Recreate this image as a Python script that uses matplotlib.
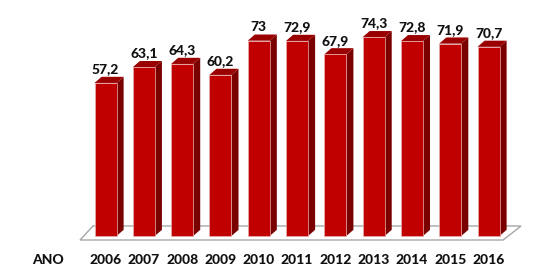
import matplotlib
matplotlib.use("Agg")
import matplotlib.pyplot as plt
from matplotlib.patches import Polygon, Rectangle

years = ["2006", "2007", "2008", "2009", "2010", "2011", "2012", "2013", "2014", "2015", "2016"]
values = [57.2, 63.1, 64.3, 60.2, 73, 72.9, 67.9, 74.3, 72.8, 71.9, 70.7]
labels = ["57,2", "63,1", "64,3", "60,2", "73", "72,9", "67,9", "74,3", "72,8", "71,9", "70,7"]

front = "#c00000"
side = "#7a0000"
top = "#9a0000"

plt.rcParams['font.family'] = ['Lato', 'DejaVu Sans']

fig = plt.figure(figsize=(5.48, 2.76), dpi=100)
ax = fig.add_axes([0, 0, 1, 1])
ax.set_xlim(-2.755, 11.553)
ax.set_ylim(-14.95, 88.2)
ax.axis('off')

w = 0.575   # bar width (index units)
dx = 0.185  # depth offset x
dy = 2.3    # depth offset y

# floor
floor = Polygon([(-0.666, -1.5), (10.38, -1.5), (10.85, 3.74), (-0.326, 3.74)],
                closed=True, facecolor='white', edgecolor='#a6a6a6', lw=1, zorder=1)
ax.add_patch(floor)

txt = dict(fontsize=10, fontweight='black', color='#111111')

for i, v in enumerate(values):
    x0 = i - w / 2
    x1 = i + w / 2
    ax.add_patch(Polygon([(x1, 0), (x1 + dx, dy), (x1 + dx, v + dy), (x1, v)],
                         closed=True, facecolor=side, edgecolor='none', zorder=2))
    ax.add_patch(Polygon([(x0, v), (x1, v), (x1 + dx, v + dy), (x0 + dx, v + dy)],
                         closed=True, facecolor=top, edgecolor='none', zorder=2))
    ax.add_patch(Rectangle((x0, 0), w, v, facecolor=front, edgecolor='#e8b0b0',
                           lw=0.5, zorder=3))
    ax.text(i, v + dy + 0.6, labels[i], ha='center', va='bottom', zorder=4, **txt)
    ax.text(i, -9.0, years[i], ha='center', va='center', **txt)

ax.text(-1.5, -9.0, "ANO", ha='center', va='center', **txt)

fig.savefig("out.png", dpi=100)
